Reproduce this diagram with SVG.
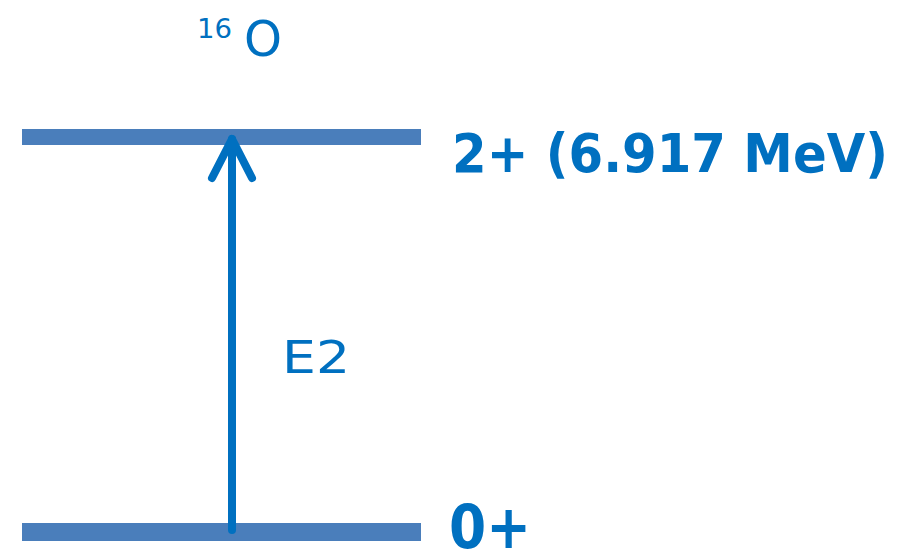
<svg xmlns="http://www.w3.org/2000/svg" width="922" height="554" viewBox="0 0 922 554">
<style>
.lvl{fill:#4A7EBB}
.t{fill:#0070C0;font-family:"Comic Sans MS","DejaVu Sans",sans-serif}
.b{font-weight:bold}
.arr{stroke:#0070C0;stroke-width:8;fill:none;stroke-linecap:round;stroke-linejoin:round}
</style>
<rect width="922" height="554" fill="#fff"/>
<g id="title">
<text class="t" x="197" y="38" font-size="26" textLength="35" lengthAdjust="spacingAndGlyphs">16</text>
<text class="t" x="244" y="56" font-size="50" textLength="38" lengthAdjust="spacingAndGlyphs">O</text>
</g>
<g id="level-2plus">
<rect class="lvl" x="22" y="129" width="399" height="16"/>
<text class="t b" x="452" y="172" font-size="54" textLength="436" lengthAdjust="spacingAndGlyphs">2+ (6.917 MeV)</text>
</g>
<g id="level-0plus">
<rect class="lvl" x="22" y="523" width="399" height="18"/>
<text class="t b" x="449" y="548" font-size="60" textLength="82" lengthAdjust="spacingAndGlyphs">0+</text>
</g>
<g id="connectors">
<path class="arr" d="M232 530 V139" stroke-linecap="butt"/>
<path class="arr" d="M212 178 L232 139 L252 178"/>
<text class="t" x="282" y="373" font-size="44" textLength="68" lengthAdjust="spacingAndGlyphs">E2</text>
</g>
</svg>
